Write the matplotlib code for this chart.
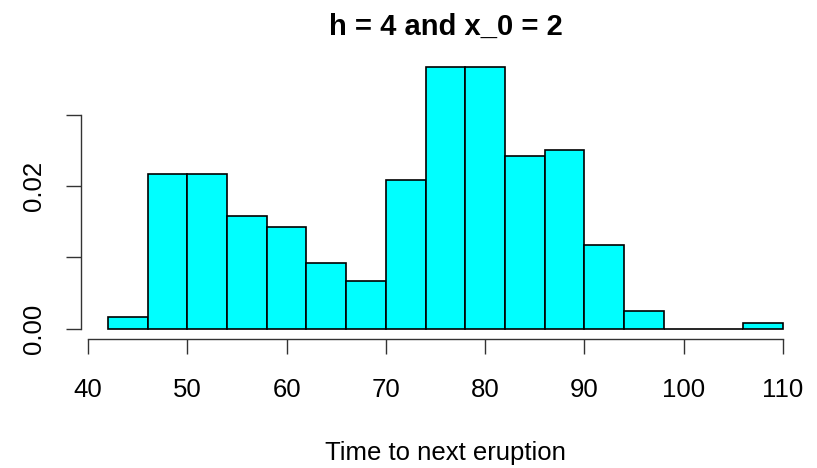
""" Histogram of eruption waiting times, h = 4, x_0 = 2
"""
import numpy as np
import matplotlib.pyplot as plt

# data: bin edges and counts (n = 299, h = 4)
bin_left = [42, 46, 50, 54, 58, 62, 66, 70, 74, 78, 82, 86, 90, 94, 98, 102, 106]
counts = [2, 26, 26, 19, 17, 11, 8, 25, 44, 44, 29, 30, 14, 3, 0, 0, 1]
h = 4
n_obs = sum(counts)
density = [c / (n_obs * h) for c in counts]
x_ticks = [40, 50, 60, 70, 80, 90, 100, 110]
y_ticks = [0.0, 0.01, 0.02, 0.03]
y_tlabels = ['0.00', '', '0.02', '']
title = 'h = 4 and x_0 = 2'
xlabel = 'Time to next eruption'

# fig config
plt.rcParams['font.family'] = ['Liberation Sans', 'DejaVu Sans']
fsize_tick = 18.5
fsize_title = 21
px = 72 / 100  # points per pixel

fig = plt.figure(figsize=(8.17, 4.68), dpi=100)
ax = fig.add_axes([0.099, 0.2752, 0.8924, 0.6048])
ax.bar(bin_left, density, width=h, align='edge', color='cyan',
       edgecolor='black', linewidth=1.2)

# R-style limits (4% extension) and open axes
xmin, xmax = bin_left[0], bin_left[-1] + h
ymax = max(density)
ax.set_xlim(xmin - 0.04 * (xmax - xmin), xmax + 0.04 * (xmax - xmin))
ax.set_ylim(-0.04 * ymax, ymax * 1.04)
for s in ['top', 'right']:
    ax.spines[s].set_visible(False)
ax.spines['bottom'].set_bounds(x_ticks[0], x_ticks[-1])
ax.spines['left'].set_bounds(y_ticks[0], y_ticks[-1])
for s in ['bottom', 'left']:
    ax.spines[s].set_linewidth(1.0)
    ax.spines[s].set_color('#333333')
ax.set_xticks(x_ticks)
ax.set_xticklabels([str(t) for t in x_ticks])
ax.set_yticks(y_ticks)
ax.set_yticklabels(y_tlabels, rotation=90, va='center')
ax.tick_params(axis='both', length=15 * px, width=1.0, color='#333333',
               labelsize=fsize_tick)
ax.tick_params(axis='x', pad=24 * px)
ax.tick_params(axis='y', pad=20 * px)

ax.set_title(title, fontsize=fsize_title, fontweight='bold', pad=15)
ax.set_xlabel(xlabel, fontsize=fsize_tick, labelpad=28)

plt.savefig('out.png', dpi=100)
